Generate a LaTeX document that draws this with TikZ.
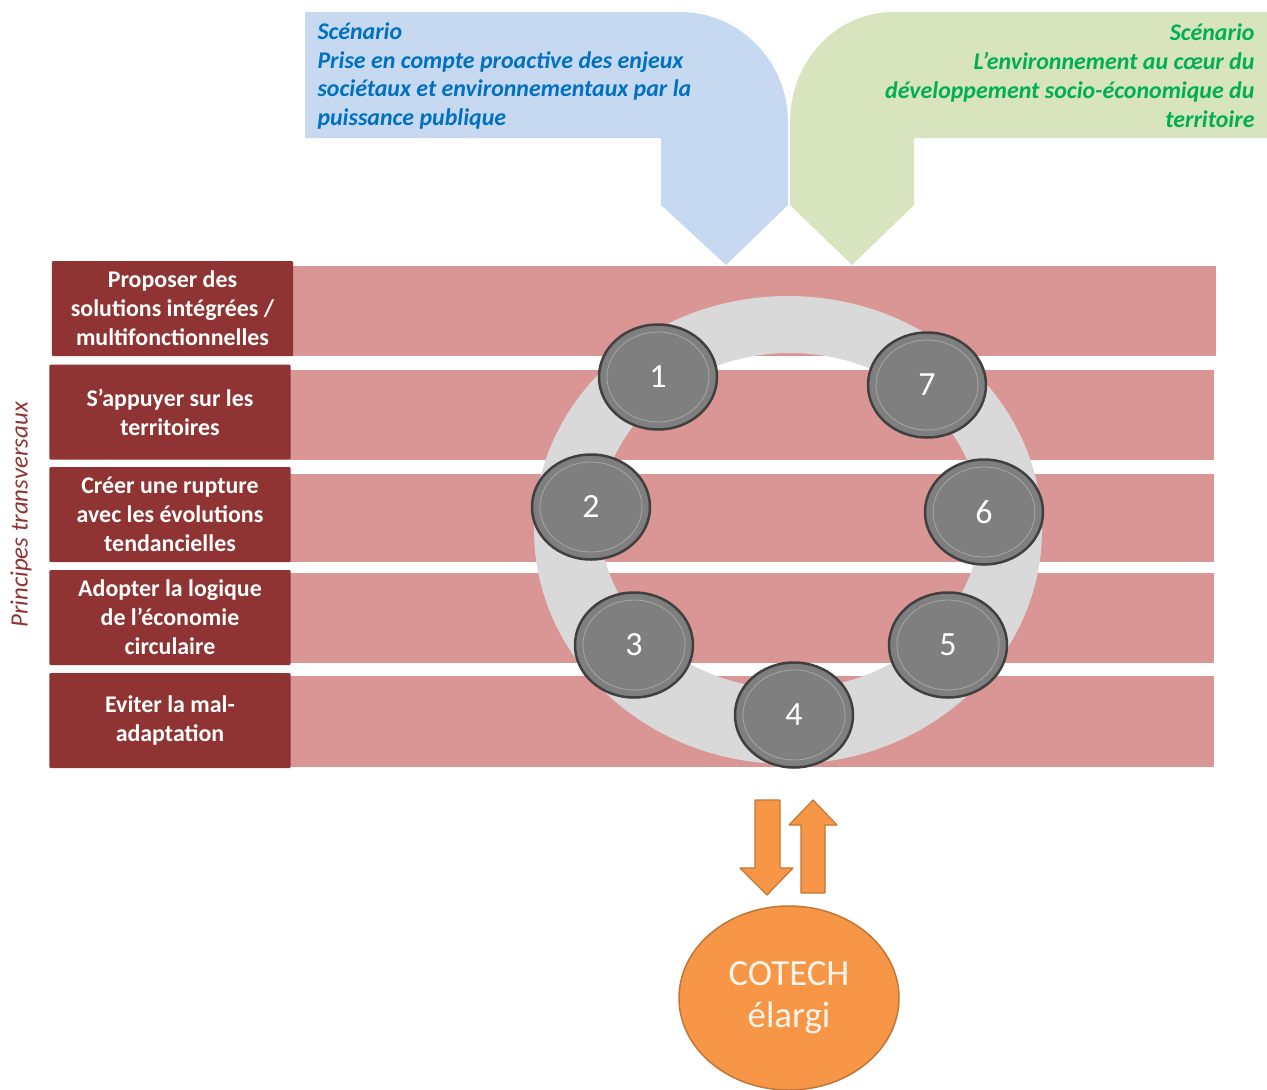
\documentclass[tikz,border=0pt]{standalone}
\usepackage{fontspec}
\setmainfont{Carlito}
\usetikzlibrary{shapes.geometric}

\definecolor{bandpink}{HTML}{D99694}
\definecolor{princred}{HTML}{8F3432}
\definecolor{ringgray}{HTML}{D9D9D9}
\definecolor{btngray}{HTML}{7F7F7F}
\definecolor{btnrim}{HTML}{404040}
\definecolor{btnhi}{HTML}{A6A6A6}
\definecolor{scenblue}{HTML}{C6D9F1}
\definecolor{scenbluetext}{HTML}{0070C0}
\definecolor{scengreen}{HTML}{D7E4BD}
\definecolor{scengreentext}{HTML}{00B050}
\definecolor{cotechorange}{HTML}{F79646}
\definecolor{cotechrim}{HTML}{C07636}

\tikzset{
  band/.style={fill=bandpink, minimum width=923bp, minimum height=90bp, inner sep=0pt},
  principle/.style={fill=princred, text=white, align=center, inner sep=0pt,
    minimum width=241bp, minimum height=95bp, rounded corners=1bp,
    font=\bfseries\fontsize{24}{29}\selectfont},
  button/.style={ellipse, fill=btngray, draw=btnrim, line width=2.5bp, inner sep=0pt,
    minimum width=118bp, minimum height=105bp, text=white,
    font=\fontsize{34}{40}\selectfont},
  blockarrow/.style={fill=cotechorange, draw=cotechrim, line width=1.2bp, line join=round}
}

\begin{document}
\begin{tikzpicture}[x=1bp, y=-1bp]
    \useasboundingbox (0,0) rectangle (1267,1090);
    %scenarios
    \fill[scenblue] (305,12) -- (680,12)
      arc[start angle=90, end angle=0, x radius=108bp, y radius=110bp]
      -- (788,205) -- (726,265) -- (661,205) -- (661,138) -- (305,138) -- cycle;
    \fill[scengreen] (1267,12) -- (893,12)
      arc[start angle=90, end angle=180, x radius=103bp, y radius=110bp]
      -- (790,205) -- (852,265) -- (914,205) -- (914,138) -- (1267,138) -- cycle;
    \node (sc1) [anchor=west, align=left, text=scenbluetext,
      font=\bfseries\itshape\fontsize{24}{29}\selectfont] at (314,76)
      {Scénario\\Prise en compte proactive des enjeux\\sociétaux et environnementaux par la\\puissance publique};
    \node (sc2) [anchor=east, align=right, text=scengreentext,
      font=\bfseries\itshape\fontsize{24}{29}\selectfont] at (1258,76)
      {Scénario\\L’environnement au cœur du\\développement socio-économique du\\territoire};

    %bands
    \node (b1) [band] at (754,311) {};
    \node (b2) [band] at (752,415) {};
    \node (b3) [band, minimum height=88bp] at (752,518) {};
    \node (b4) [band] at (752,618) {};
    \node (b5) [band, minimum height=91bp] at (752,721.5) {};

    %principles
    \node (p1) [principle] at (172.5,308.5) {Proposer des\\solutions intégrées /\\multifonctionnelles};
    \node (p2) [principle] at (170,412) {S’appuyer sur les\\territoires};
    \node (p3) [principle] at (170,514.5) {Créer une rupture\\avec les évolutions\\tendancielles};
    \node (p4) [principle] at (170,617.5) {Adopter la logique\\de l’économie\\circulaire};
    \node (p5) [principle] at (170,720.5) {Eviter la mal-\\adaptation};
    \node (pt) [rotate=90, text=princred, font=\itshape\fontsize{25}{30}\selectfont] at (21,515) {Principes transversaux};

    %ring
    \fill[ringgray, even odd rule] (788,530) ellipse (254bp and 234bp) (790,521) ellipse (190bp and 168bp);
    \node (n1) [button] at (658,377) {1};
    \node (n2) [button] at (591,507) {2};
    \node (n3) [button] at (634,645) {3};
    \node (n4) [button] at (794,715) {4};
    \node (n5) [button] at (948,645) {5};
    \node (n6) [button] at (984,512) {6};
    \node (n7) [button] at (927,385) {7};
    \foreach \n in {1,...,7}
      \draw[btnhi, line width=0.8bp] (n\n) ellipse (51bp and 45bp);

    %cotech
    \fill[blockarrow] (755,800) -- (780,800) -- (780,868) -- (793,868) -- (767,895)
      -- (740,868) -- (755,868) -- cycle;
    \fill[blockarrow] (801,893) -- (825,893) -- (825,825) -- (837,825) -- (813,800)
      -- (789,825) -- (801,825) -- cycle;
    \node (ct) [ellipse, fill=cotechorange, draw=cotechrim, line width=1.5bp,
      minimum width=220bp, minimum height=184bp, inner sep=0pt, align=center,
      text=white!92!orange, font=\fontsize{37}{42}\selectfont] at (789,998) {COTECH\\élargi};
\end{tikzpicture}
\end{document}
